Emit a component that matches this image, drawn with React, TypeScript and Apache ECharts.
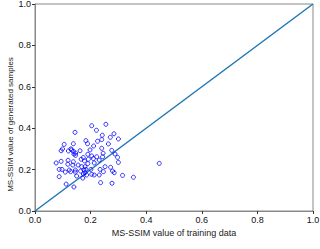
import React, { useEffect, useRef } from "react";
import * as echarts from "echarts";

const trainingX: number[] = [
  0.204, 0.255, 0.144, 0.221, 0.242, 0.284, 0.271, 0.24, 0.183, 0.189,
  0.225, 0.105, 0.138, 0.211, 0.264, 0.3, 0.099, 0.094, 0.12, 0.129,
  0.138, 0.146, 0.146, 0.162, 0.19, 0.204, 0.245, 0.276, 0.288, 0.243,
  0.174, 0.166, 0.178, 0.192, 0.21, 0.231, 0.297, 0.119, 0.076, 0.094,
  0.138, 0.118, 0.136, 0.155, 0.19, 0.213, 0.3, 0.447, 0.087, 0.097,
  0.109, 0.123, 0.128, 0.145, 0.145, 0.176, 0.18, 0.201, 0.234, 0.246,
  0.272, 0.279, 0.285, 0.087, 0.15, 0.172, 0.204, 0.213, 0.231, 0.315,
  0.354, 0.112, 0.14, 0.236, 0.277, 0.132, 0.14, 0.18, 0.183, 0.174,
  0.186, 0.168, 0.164, 0.222, 0.198, 0.24, 0.252,
];
const generatedY: number[] = [
  0.412, 0.419, 0.38, 0.39, 0.366, 0.373, 0.356, 0.345, 0.34, 0.325,
  0.337, 0.322, 0.325, 0.314, 0.324, 0.348, 0.3, 0.291, 0.29, 0.3,
  0.288, 0.28, 0.269, 0.291, 0.274, 0.266, 0.279, 0.293, 0.275, 0.262,
  0.258, 0.25, 0.242, 0.25, 0.253, 0.246, 0.259, 0.245, 0.232, 0.24,
  0.238, 0.226, 0.222, 0.222, 0.229, 0.232, 0.235, 0.23, 0.201, 0.201,
  0.188, 0.198, 0.19, 0.198, 0.188, 0.198, 0.185, 0.201, 0.201, 0.19,
  0.211, 0.193, 0.185, 0.166, 0.169, 0.159, 0.177, 0.174, 0.174, 0.172,
  0.163, 0.13, 0.116, 0.137, 0.134, 0.295, 0.275, 0.214, 0.201, 0.179,
  0.174, 0.214, 0.193, 0.262, 0.295, 0.303, 0.214,
];
const identityLine: number[][] = [
  [0, 0],
  [1, 1],
];
const tickValues: number[] = [0, 0.2, 0.4, 0.6, 0.8, 1.0];

export default function App() {
  const ref = useRef<HTMLDivElement>(null);
  useEffect(() => {
    if (!ref.current) return;
    const chart = echarts.init(ref.current, undefined, { renderer: "svg" });
    const fontFamily = "Liberation Sans";
    const axisCommon = {
      type: "value" as const,
      min: 0,
      max: 1,
      interval: 0.2,
      splitLine: { show: false },
      axisLine: { show: true, lineStyle: { color: "#888", width: 1 } },
      axisTick: { show: true, inside: false, length: 3, lineStyle: { color: "#333", width: 1 } },
      axisLabel: {
        fontSize: 9,
        color: "#111",
        fontFamily,
        formatter: (v: number) => (tickValues.some((t) => Math.abs(t - v) < 1e-9) ? v.toFixed(1) : ""),
      },
      nameLocation: "middle" as const,
      nameMoveOverlap: false,
    };
    chart.setOption({
      animation: false,
      backgroundColor: "#fff",
      grid: {
        left: 35,
        right: 7,
        top: 4,
        bottom: 38,
        containLabel: false,
        outerBoundsMode: "none",
        show: true,
        borderColor: "#888",
        borderWidth: 1,
        backgroundColor: "transparent",
      },
      xAxis: {
        ...axisCommon,
        name: "MS-SSIM value of training data",
        nameGap: 17,
        nameTextStyle: { fontSize: 9, color: "#222", fontFamily },
        axisLabel: { ...axisCommon.axisLabel, margin: 4 },
      },
      yAxis: {
        ...axisCommon,
        name: "MS-SSIM value of generated samples",
        nameGap: 21,
        nameTextStyle: { fontSize: 8, color: "#222", fontFamily, padding: [0, 34, 0, 0] },
        axisLabel: { ...axisCommon.axisLabel, margin: 4 },
      },
      series: [
        {
          type: "line",
          data: identityLine,
          showSymbol: false,
          symbol: "none",
          lineStyle: { color: "#1f77b4", width: 1.5 },
          z: 1,
        },
        {
          type: "scatter",
          data: trainingX.map((x, i) => [x, generatedY[i]]),
          symbol: "circle",
          symbolSize: 4,
          itemStyle: { color: "rgba(0,0,0,0)", borderColor: "#0000ff", borderWidth: 1 },
          z: 2,
        },
      ],
    });
    return () => chart.dispose();
  }, []);
  return (
    <div
      ref={ref}
      style={{ position: "absolute", left: 0, top: 0, width: 320, height: 249 }}
    />
  );
}
